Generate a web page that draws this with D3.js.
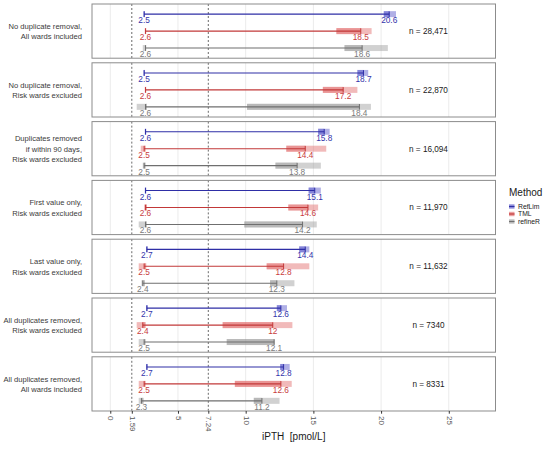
<!DOCTYPE html>
<html>
<head>
<meta charset="utf-8">
<title>iPTH reference limits by method</title>
<script src="https://cdn.jsdelivr.net/npm/d3@7"></script>
<style>
  body { margin: 0; background: #fff; }
  svg { font-family: "Liberation Sans", Arial, sans-serif; }
</style>
</head>
<body>
<div id="chart"></div>
<script>
// facets (one per data selection)
var panels = [
  ["No duplicate removal,", "All wards included"],
  ["No duplicate removal,", "Risk wards excluded"],
  ["Duplicates removed", "if within 90 days,", "Risk wards excluded"],
  ["First value only,", "Risk wards excluded"],
  ["Last value only,", "Risk wards excluded"],
  ["All duplicates removed,", "Risk wards excluded"],
  ["All duplicates removed,", "All wards included"]
];
var nLabels = ["n = 28,471", "n = 22,870", "n = 16,094", "n = 11,970", "n = 11,632", "n = 7340", "n = 8331"];
var methods = ["RefLim", "TML", "refineR"];

// estimates, per panel: [RefLim, TML, refineR]
var lowerRL = [[2.5, 2.6, 2.6], [2.5, 2.6, 2.6], [2.6, 2.5, 2.5], [2.6, 2.6, 2.6], [2.7, 2.5, 2.4], [2.7, 2.4, 2.5], [2.7, 2.5, 2.3]];
var upperRL = [[20.6, 18.5, 18.6], [18.7, 17.2, 18.4], [15.8, 14.4, 13.8], [15.1, 14.6, 14.2], [14.4, 12.8, 12.3], [12.6, 12, 12.1], [12.8, 12.6, 11.2]];
// confidence intervals of the lower limit
var lowerCIlo = [[2.45, 2.55, 2.4], [2.45, 2.55, 1.95], [2.55, 2.25, 2.4], [2.55, 2.5, 2.1], [2.65, 2.1, 2.3], [2.65, 1.95, 2.1], [2.65, 2.1, 2.1]];
var lowerCIhi = [[2.55, 2.65, 2.65], [2.55, 2.65, 2.7], [2.65, 2.6, 2.6], [2.65, 2.7, 2.7], [2.75, 2.65, 2.55], [2.75, 2.6, 2.6], [2.75, 2.6, 2.45]];
// confidence intervals of the upper limit
var upperCIlo = [[20.2, 16.7, 17.3], [18.25, 15.7, 10.1], [15.35, 13.0, 12.2], [14.65, 13.15, 9.9], [13.95, 11.55, 11.8], [12.3, 8.3, 8.6], [12.55, 9.2, 10.6]];
var upperCIhi = [[21.1, 19.3, 20.5], [19.05, 18.25, 19.25], [16.2, 15.95, 15.55], [15.55, 15.35, 15.25], [14.7, 14.7, 13.6], [13.05, 13.45, 12.15], [13.25, 13.4, 12.5]];

var xTicks = [0, 1.59, 5, 7.24, 10, 15, 20, 25];
var gridTicks = [0, 5, 10, 15, 20, 25];
var dashed = [1.59, 7.24];

var lineCol = {RefLim: "#2e2ea6", TML: "#c23838", refineR: "#6f6f6f"};
var barCol = {RefLim: "#5050c8", TML: "#e06666", refineR: "#9a9a9a"};
var textCol = {RefLim: "#3333aa", TML: "#c83c3c", refineR: "#7a7a7a"};

var W = 550, H = 450;
var pLeft = 92, pRight = 495.5, pTop = 4, pBottom = 411;
var gap = 4.6;
var ph = (pBottom - pTop - gap * (panels.length - 1)) / panels.length;

var svg = d3.select("#chart").append("svg")
  .attr("width", W).attr("height", H);

var x = d3.scaleLinear().domain([-1.35, 28.45]).range([pLeft, pRight]);
var y = d3.scalePoint().domain(methods).range([0, ph]).padding(0.6);

panels.forEach(function(lab, p) {
  var g = svg.append("g").attr("transform", "translate(0," + (pTop + p * (ph + gap)) + ")");

  g.append("rect").attr("x", pLeft).attr("y", 0)
    .attr("width", pRight - pLeft).attr("height", ph).attr("fill", "#fff");

  g.selectAll(".grid").data(gridTicks).enter().append("line")
    .attr("x1", function(d) { return x(d); }).attr("x2", function(d) { return x(d); })
    .attr("y1", 0).attr("y2", ph)
    .attr("stroke", "#ebebeb").attr("stroke-width", 1);

  g.selectAll(".dash").data(dashed).enter().append("line")
    .attr("x1", function(d) { return x(d); }).attr("x2", function(d) { return x(d); })
    .attr("y1", 0).attr("y2", ph)
    .attr("stroke", "#444").attr("stroke-width", 0.8).attr("stroke-dasharray", "2,2");

  methods.forEach(function(m, i) {
    var cy = y(m);
    var lo = lowerRL[p][i], hi = upperRL[p][i];
    // CI bars: lighter outside the interval, darker where they overlap it
    [[lowerCIlo[p][i], lowerCIhi[p][i]], [upperCIlo[p][i], upperCIhi[p][i]]].forEach(function(ci) {
      g.append("rect")
        .attr("x", x(ci[0])).attr("y", cy - 3)
        .attr("width", x(ci[1]) - x(ci[0])).attr("height", 6)
        .attr("fill", barCol[m]).attr("fill-opacity", 0.45);
      var a = Math.max(ci[0], lo), b = Math.min(ci[1], hi);
      if (b > a) {
        g.append("rect")
          .attr("x", x(a)).attr("y", cy - 3)
          .attr("width", x(b) - x(a)).attr("height", 6)
          .attr("fill", barCol[m]).attr("fill-opacity", 0.45);
      }
    });

    g.append("line")
      .attr("x1", x(lo)).attr("x2", x(hi)).attr("y1", cy).attr("y2", cy)
      .attr("stroke", lineCol[m]).attr("stroke-width", 1.1);
    [lo, hi].forEach(function(v) {
      g.append("line")
        .attr("x1", x(v)).attr("x2", x(v)).attr("y1", cy - 2.8).attr("y2", cy + 2.8)
        .attr("stroke", lineCol[m]).attr("stroke-width", 1);
      g.append("text")
        .attr("x", x(v)).attr("y", cy + 9)
        .attr("text-anchor", "middle")
        .attr("font-size", 8.3).attr("fill", textCol[m])
        .text(String(v));
    });
  });

  g.append("rect").attr("x", pLeft).attr("y", 0)
    .attr("width", pRight - pLeft).attr("height", ph)
    .attr("fill", "none").attr("stroke", "#8c8c8c").attr("stroke-width", 1);

  g.append("text")
    .attr("x", x(23.5)).attr("y", ph / 2 + 3)
    .attr("text-anchor", "middle").attr("font-size", 8.2).attr("fill", "#1a1a1a")
    .text(nLabels[p]);

  var lh = 10.6;
  var t = g.append("text")
    .attr("text-anchor", "end").attr("font-size", 7.6).attr("fill", "#3a3a3a");
  lab.forEach(function(s, k) {
    t.append("tspan").attr("x", 82)
      .attr("y", ph / 2 + 3 + (k - (lab.length - 1) / 2) * lh)
      .text(s);
  });
});

// x axis
var axis = svg.append("g").attr("transform", "translate(0," + pBottom + ")")
  .call(d3.axisBottom(x).tickValues(xTicks).tickSize(2.7).tickFormat(function(d) { return String(d); }));
axis.select(".domain").remove();
axis.selectAll(".tick line").attr("stroke", "#333");
axis.selectAll(".tick text")
  .attr("transform", "rotate(90)")
  .attr("text-anchor", "start")
  .attr("x", 5).attr("y", 0).attr("dy", "0.32em")
  .attr("font-size", 8).attr("fill", "#555")
  .attr("font-family", "Liberation Sans, Arial, sans-serif");

svg.append("text")
  .attr("x", (pLeft + pRight) / 2).attr("y", 440)
  .attr("text-anchor", "middle").attr("font-size", 10).attr("fill", "#1a1a1a")
  .attr("xml:space", "preserve")
  .text("iPTH  [pmol/L]");

// legend
var leg = svg.append("g").attr("transform", "translate(509,0)");
leg.append("text").attr("x", 0).attr("y", 196)
  .attr("font-size", 10).attr("fill", "#1a1a1a").text("Method");
methods.forEach(function(m, i) {
  var ly = 206.5 + i * 7.5;
  leg.append("rect").attr("x", 0).attr("y", ly - 2.2).attr("width", 5.5).attr("height", 4.4)
    .attr("fill", barCol[m]).attr("fill-opacity", 0.6);
  leg.append("line").attr("x1", 0).attr("x2", 5.5).attr("y1", ly).attr("y2", ly)
    .attr("stroke", lineCol[m]).attr("stroke-width", 1.2);
  leg.append("text").attr("x", 9).attr("y", ly + 2.4)
    .attr("font-size", 6.8).attr("fill", "#1a1a1a").text(m);
});
</script>
</body>
</html>
